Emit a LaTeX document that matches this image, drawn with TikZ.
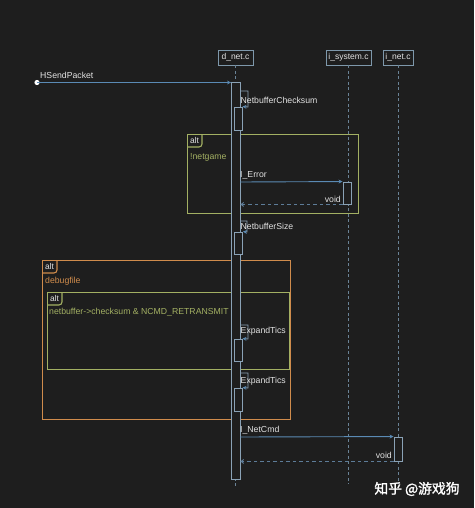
\documentclass[tikz,border=0pt]{standalone}
\usepackage{fontspec}
\setmainfont{Liberation Sans}
\newfontfamily\cjkfont[FakeBold=1.5]{Noto Sans CJK SC}
\usetikzlibrary{arrows.meta,calc}
\definecolor{bgc}{HTML}{1E1E1E}
\definecolor{partc}{HTML}{7E98AB}
\definecolor{lifec}{HTML}{6A8396}
\definecolor{actc}{HTML}{8AA2B6}
\definecolor{msgc}{HTML}{5A8AB4}
\definecolor{retc}{HTML}{5D7C98}
\definecolor{txtc}{HTML}{E2E2E2}
\definecolor{altg}{HTML}{A3B063}
\definecolor{alto}{HTML}{D08C4C}
\tikzset{
  part/.style={draw=partc, line width=0.9pt, text=txtc, inner sep=0pt, minimum height=15pt, font=\fontsize{8.5}{10}\selectfont},
  life/.style={draw=lifec, line width=0.9pt, dash pattern=on 3pt off 2.5pt},
  act/.style={draw=actc, fill=bgc, line width=0.9pt, inner sep=0pt, minimum width=8pt},
  msg/.style={draw=msgc, line width=0.9pt, -{Stealth[length=4pt,width=3.8pt]}},
  self/.style={draw=actc, line width=0.8pt, -{Stealth[length=4pt,width=3.8pt,color=msgc,fill=msgc]}},
  ret/.style={draw=retc, line width=0.9pt, dash pattern=on 3.5pt off 3pt, -{Straight Barb[length=2.5pt,width=4pt]}},
  lbl/.style={text=txtc, inner sep=0pt, font=\fontsize{8.7}{10}\selectfont},
  frame/.style={line width=1.1pt, inner sep=0pt, anchor=north west},
  tabtxt/.style={text=txtc, inner sep=0pt, font=\fontsize{8.4}{10}\selectfont},
}
\begin{document}
\begin{tikzpicture}[x=1pt,y=-1pt]
\fill[bgc] (0,0) rectangle (474,508);
\useasboundingbox (0,0) rectangle (474,508);

% frames
\node[frame, draw=altg, minimum width=171pt, minimum height=79pt] (f1) at (187,134) {};
\draw[altg, line width=1.1pt, rounded corners=3pt] ($(f1.north west)+(15,0)$) -- ++(0,13) -- ++(-15,0);
\node[tabtxt] (t1) at ($(f1.north west)+(7.5,6.5)$) {alt};
\node[lbl, text=altg, anchor=west] (c1) at (190,157) {!netgame};

\node[frame, draw=alto, minimum width=248pt, minimum height=159pt] (f2) at (42,260) {};
\draw[alto, line width=1.1pt, rounded corners=3pt] ($(f2.north west)+(15,0)$) -- ++(0,13) -- ++(-15,0);
\node[tabtxt] (t2) at ($(f2.north west)+(7.5,6.5)$) {alt};
\node[lbl, text=alto, anchor=west] (c2) at (45,281) {debugfile};

\node[frame, draw=altg, minimum width=242pt, minimum height=77pt] (f3) at (47,292) {};
\draw[altg, line width=1.1pt, rounded corners=3pt] ($(f3.north west)+(15,0)$) -- ++(0,13) -- ++(-15,0);
\node[tabtxt] (t3) at ($(f3.north west)+(7.5,6.5)$) {alt};
\node[lbl, text=altg, anchor=west] (c3) at (49,312) {netbuffer->checksum \& NCMD\_RETRANSMIT};

% participants
\node[part, minimum width=35pt] (pd) at (235.5,57.5) {d\_net.c};
\node[part, minimum width=45pt] (ps) at (348.5,57.5) {i\_system.c};
\node[part, minimum width=30pt] (pn) at (398,57.5) {i\_net.c};

\coordinate (ed) at (235.5,487);
\coordinate (es) at (348.5,484);
\coordinate (en) at (398,484);
\draw[life] (pd.south) -- (ed);
\draw[life] (ps.south) -- (es);
\draw[life] (pn.south) -- (en);

% activations
\node[act, minimum width=8.5pt, minimum height=397pt] (am) at (235.75,280.5) {};
\node[act, minimum height=23pt] (a1) at (238,118.5) {};
\node[act, minimum height=22pt] (as) at (347,193) {};
\node[act, minimum height=22pt] (a2) at (238.5,243) {};
\node[act, minimum height=22pt] (a3) at (238,350) {};
\node[act, minimum height=23pt] (a4) at (238,399.5) {};
\node[act, minimum height=24pt] (an) at (398,449) {};

% HSendPacket
\fill[white] (37,82.5) circle (2.6pt);
\coordinate (st) at (37,82.5);
\draw[msg] (st) -- (am.north west |- st);
\node[lbl, anchor=west] (lh) at (40,75.5) {HSendPacket};

% NetbufferChecksum
\coordinate (s1) at (240,91);
\draw[self] (s1) -- (248,91) -- (248,107) -- (a1.north east);
\node[lbl, anchor=west] (l1) at (240.5,100) {NetbufferChecksum};

% I_Error
\coordinate (m1) at (240,182);
\draw[msg] (m1) -- (as.north west);
\node[lbl, anchor=west] (le) at (240,175) {I\_Error};
\draw[ret] (as.south west) -- (am.east |- as.south west);
\node[lbl, anchor=east] (lv1) at (341,199) {void};

% NetbufferSize
\coordinate (s2) at (240,221);
\draw[self] (s2) -- (247,221) -- (247,232) -- (a2.north east);
\node[lbl, anchor=west] (l2) at (240.5,226) {NetbufferSize};

% ExpandTics 1
\coordinate (s3) at (240,325);
\draw[self] (s3) -- (248,325) -- (248,339) -- (a3.north east);
\node[lbl, anchor=west] (l3) at (240.5,331) {ExpandTics};

% ExpandTics 2
\coordinate (s4) at (240,373);
\draw[self] (s4) -- (248,373) -- (248,388) -- (a4.north east);
\node[lbl, anchor=west] (l4) at (240.5,381) {ExpandTics};

% I_NetCmd
\coordinate (m2) at (240,437);
\draw[msg] (m2) -- (an.north west);
\node[lbl, anchor=west] (ln) at (240,430.5) {I\_NetCmd};
\draw[ret] (an.south west) -- (am.east |- an.south west);
\node[lbl, anchor=east] (lv2) at (392,455) {void};

% watermark
\node[text=white, inner sep=0pt, font=\cjkfont\fontsize{13.8}{15}\selectfont] (wm) at (417,489) {知乎 @游戏狗};
\end{tikzpicture}
\end{document}
